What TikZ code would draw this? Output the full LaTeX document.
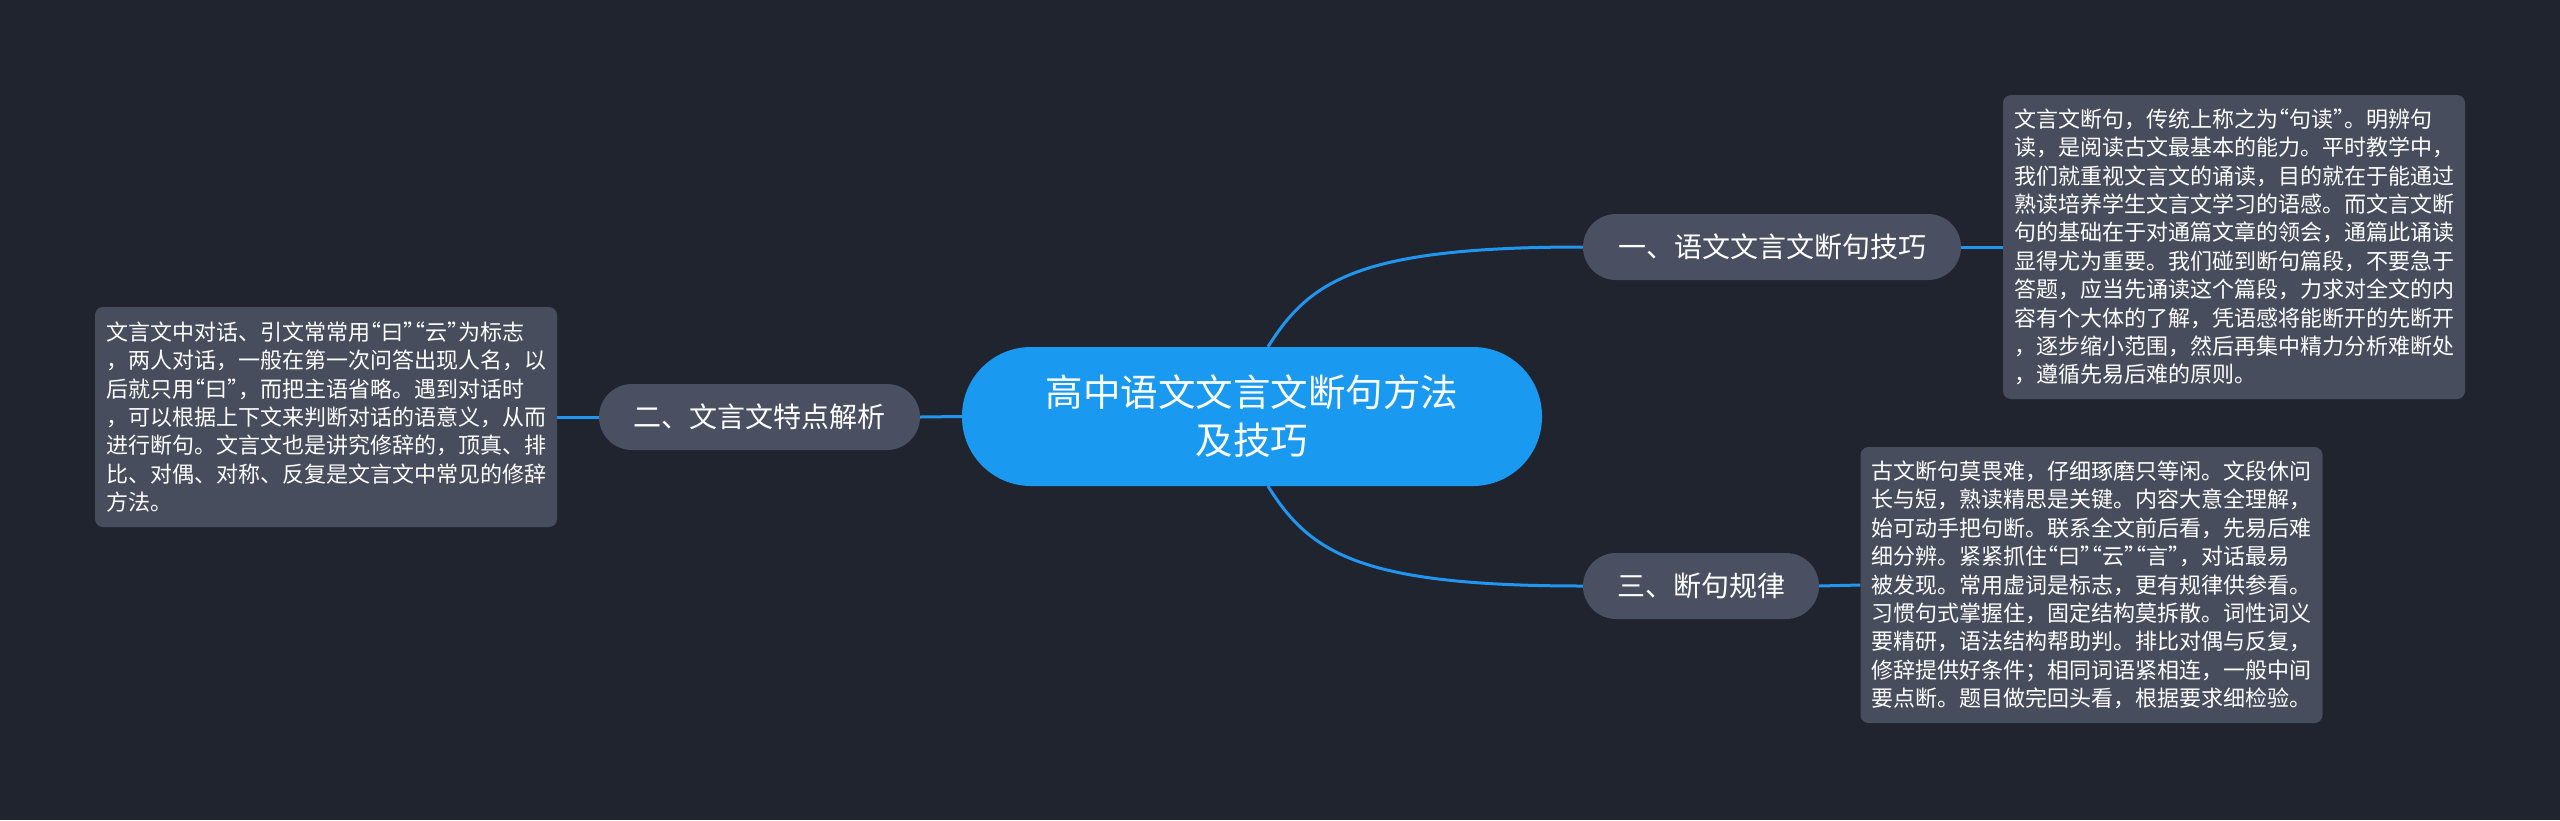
\documentclass[tikz,border=0pt]{standalone}
\usepackage{fontspec}
\setmainfont{Noto Sans CJK SC}
\definecolor{bg}{HTML}{20242F}
\definecolor{cblue}{HTML}{1A99F0}
\definecolor{gfill}{HTML}{4A5061}
\definecolor{lfill}{HTML}{474D5C}
\definecolor{lineblue}{HTML}{2196F0}
\newcommand\myoq{\makebox[0.5em][r]{“}}
\newcommand\mycq{\makebox[0.5em][l]{”}}
\begin{document}
\begin{tikzpicture}[x=1pt,y=-1pt,
  conn/.style={draw=lineblue, line width=3pt},
  mainbox/.style={fill=cblue, rounded corners=69pt, minimum width=580pt, minimum height=139pt, inner sep=0pt, text=white, font=\fontsize{37.5}{48}\selectfont, align=center},
  branchbox/.style={fill=gfill, rounded corners=33pt, minimum height=66pt, inner sep=0pt, text=white, font=\fontsize{28}{34}\selectfont},
  leafbox/.style={fill=lfill, rounded corners=8pt, text width=440pt, inner xsep=11pt, inner ysep=0pt, minimum height=#1, text=white, font=\fontsize{22}{28.4}\selectfont, align=left}
]
\fill[bg] (0,0) rectangle (2560,820);
\useasboundingbox (0,0) rectangle (2560,820);

\node[mainbox] (cen) at (1252,416.5) {高中语文文言文断句方法\\及技巧};

\node[branchbox, minimum width=378pt] (b1) at (1772,247) {一、语文文言文断句技巧};
\node[branchbox, minimum width=321pt] (b2) at (759.5,417) {二、文言文特点解析};
\node[branchbox, minimum width=236pt] (b3) at (1701,586) {三、断句规律};

\node[leafbox=304pt] (l1) at (2234,247) {文言文断句，传统上称之为\myoq 句读\mycq 。明辨句\\
读，是阅读古文最基本的能力。平时教学中，\\
我们就重视文言文的诵读，目的就在于能通过\\
熟读培养学生文言文学习的语感。而文言文断\\
句的基础在于对通篇文章的领会，通篇此诵读\\
显得尤为重要。我们碰到断句篇段，不要急于\\
答题，应当先诵读这个篇段，力求对全文的内\\
容有个大体的了解，凭语感将能断开的先断开\\
，逐步缩小范围，然后再集中精力分析难断处\\
，遵循先易后难的原则。};

\node[leafbox=220pt] (l2) at (326,417) {文言文中对话、引文常常用\myoq 曰\mycq\myoq 云\mycq 为标志\\
，两人对话，一般在第一次问答出现人名，以\\
后就只用\myoq 曰\mycq ，而把主语省略。遇到对话时\\
，可以根据上下文来判断对话的语意义，从而\\
进行断句。文言文也是讲究修辞的，顶真、排\\
比、对偶、对称、反复是文言文中常见的修辞\\
方法。};

\node[leafbox=276pt] (l3) at (2091.5,585) {古文断句莫畏难，仔细琢磨只等闲。文段休问\\
长与短，熟读精思是关键。内容大意全理解，\\
始可动手把句断。联系全文前后看，先易后难\\
细分辨。紧紧抓住\myoq 曰\mycq\myoq 云\mycq\myoq 言\mycq ，对话最易\\
被发现。常用虚词是标志，更有规律供参看。\\
习惯句式掌握住，固定结构莫拆散。词性词义\\
要精研，语法结构帮助判。排比对偶与反复，\\
修辞提供好条件；相同词语紧相连，一般中间\\
要点断。题目做完回头看，根据要求细检验。};

\draw[conn] (cen.west) -- (b2.east);
\draw[conn] (b2.west) -- (l2.east);
\draw[conn] (b1.east) -- (l1.west);
\draw[conn] (b3.east) -- (l3.west);
\coordinate (s1) at ([xshift=16pt]cen.north);
\coordinate (s3) at ([xshift=16pt]cen.south);
\draw[conn] (s1) .. controls +(42,-67) and ([xshift=-223pt]b1.west) .. (b1.west);
\draw[conn] (s3) .. controls +(42,67) and ([xshift=-223pt]b3.west) .. (b3.west);
\end{tikzpicture}
\end{document}
